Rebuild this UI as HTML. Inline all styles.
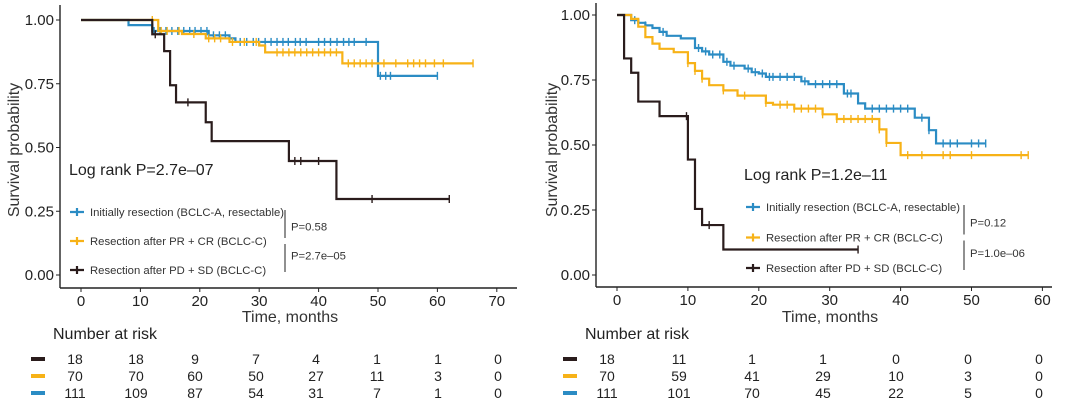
<!DOCTYPE html>
<html><head><meta charset="utf-8"><style>
body{margin:0;background:#fff;width:1080px;height:405px;overflow:hidden}
svg{font-family:"Liberation Sans",Arial,sans-serif}
</style></head><body>
<svg id="s" width="1080" height="405" xmlns="http://www.w3.org/2000/svg"></svg>
<script>
// Panel A data
const aBlueT=[0,8,12,21.5,25,26,50], aBlueS=[1,0.98,0.957,0.94,0.928,0.914,0.781], aBlueEnd=60;
const aBlueC=[12.3,13.3,14.3,15.3,16.3,17.3,18.3,19.2,20.2,21.2,22.3,23.3,24.3,26.8,27.9,29,29.9,31,32,33,34,34.9,36.1,36.9,37.9,40,41,42,43.1,44.2,45.1,46,48,50.4,51.3,52.1,60];
const aOrT=[0,13,17,21,25,30,31,44], aOrS=[1,0.957,0.945,0.928,0.914,0.9,0.873,0.83], aOrEnd=66;
const aOrC=[12,13.5,14.5,16.5,19,21.5,22.5,23.5,25.5,27.5,29.5,33,34,35,36,37,38,39,40,41,42,43,45,46,47,48,49,51,53,55,56,57,58,59.5,61,66];
const aBkT=[0,12,14,15,16,21,22,35,43], aBkS=[1,0.944,0.878,0.744,0.677,0.599,0.525,0.447,0.298], aBkEnd=62;
const aBkC=[12.5,18,36,37,40,49,62];
const aRiskBk=[18,18,9,7,4,1,1,0], aRiskOr=[70,70,60,50,27,11,3,0], aRiskBl=[111,109,87,54,31,7,1,0];
// Panel B data
const bBlueT=[0,2,3,4,5,6,7,9,11,12,13,15,16,18,19,20,21,26,27,32,34,35,42,44,45], bBlueS=[1,0.98,0.97,0.96,0.95,0.935,0.92,0.91,0.873,0.86,0.848,0.82,0.805,0.794,0.78,0.775,0.762,0.745,0.734,0.698,0.66,0.64,0.605,0.557,0.506], bBlueEnd=52;
const bBlueC=[2.5,4,6.5,11.5,12.5,13.5,14.5,15.5,16.5,18.5,19.5,20.5,21.5,22,23,24,25,26.5,28,29,30,31,32.5,33,36,37,38,39,40,41,43,44,46,47,48,50,51,52];
const bOrT=[0,2,3,4,5,6,8,10,11,12,13,15,17,21,22,25,29,31,37,38,40], bOrS=[1,0.985,0.955,0.915,0.89,0.87,0.857,0.815,0.785,0.755,0.73,0.71,0.69,0.662,0.655,0.64,0.618,0.6,0.56,0.508,0.461], bOrEnd=58;
const bOrC=[10,11,12,15,18,21,23,24,25,26,27,28,29,31,32,33,34,35,36,37,38,41,43,46,47,50,57,58];
const bBkT=[0,1,2,3,6,10,11,12,15], bBkS=[1,0.833,0.778,0.667,0.611,0.444,0.254,0.192,0.098], bBkEnd=34;
const bBkC=[9.8,13,34];
const bRiskBk=[18,11,1,1,0,0,0], bRiskOr=[70,59,41,29,10,3,0], bRiskBl=[111,101,70,45,22,5,0];
const yTicks=[0,0.25,0.5,0.75,1], yLabels=["0.00","0.25","0.50","0.75","1.00"];

const C={bl:"#2b8cc4",or:"#f7b217",bk:"#2a1c1c"};
const S=document.getElementById('s');const NS="http://www.w3.org/2000/svg";
function el(t,a,txt){const e=document.createElementNS(NS,t);for(const k in a)e.setAttribute(k,a[k]);if(txt!==undefined)e.textContent=txt;S.appendChild(e);return e;}
function surv(T,Sv,t){let s=1;for(let i=0;i<T.length;i++)if(T[i]<=t)s=Sv[i];return s;}

function panel(P){
 const X=v=>P.x0+v*P.kx, Y=v=>P.y0-v*P.ky;
 let e=el('line',{x1:P.ax,y1:P.top,x2:P.ax,y2:P.axY,stroke:'#222','stroke-width':1.4});
 
 e=el('line',{x1:P.ax,y1:P.axY,x2:P.right,y2:P.axY,stroke:'#222','stroke-width':1.4});
 
 yTicks.forEach((v,i)=>{
  el('line',{x1:P.ax-4,y1:Y(v),x2:P.ax,y2:Y(v),stroke:'#222'});
  e=el('text',{x:P.ax-6,y:Y(v)+5,'text-anchor':'end','font-size':15,fill:'#222'},yLabels[i]);
  
 });
 P.xt.forEach(v=>{
  el('line',{x1:X(v),y1:P.axY,x2:X(v),y2:P.axY+4,stroke:'#222'});
  e=el('text',{x:X(v),y:P.axY+18,'text-anchor':'middle','font-size':15,fill:'#222'},String(v));
  
 });
 e=el('text',{x:P.ylx,y:150,'text-anchor':'middle','font-size':16,fill:'#333',transform:`rotate(-90 ${P.ylx} 150)`},'Survival probability');
 
 e=el('text',{x:P.xlx,y:322,'text-anchor':'middle','font-size':16,fill:'#333'},'Time, months');
 
 P.series.forEach(sr=>{
  let d=`M${X(sr.T[0])},${Y(sr.S[0])}`;
  for(let i=1;i<sr.T.length;i++){d+=`H${X(sr.T[i])}V${Y(sr.S[i])}`;}
  d+=`H${X(sr.end)}`;
  e=el('path',{d,fill:'none',stroke:C[sr.c],'stroke-width':2.2});
  
  sr.cens.forEach(t=>{const yy=Y(surv(sr.T,sr.S,t));
   e=el('path',{d:`M${X(t)},${yy-4}V${yy+4}`,stroke:C[sr.c],'stroke-width':1.4});
   });
 });
 e=el('text',{x:P.lr[0],y:P.lr[1],'font-size':16,fill:'#222'},P.lrText);
 
 const labs=[["bl","Initially resection (BCLC-A, resectable)"],["or","Resection after PR + CR (BCLC-C)"],["bk","Resection after PD + SD (BCLC-C)"]];
 labs.forEach((l,i)=>{const yy=P.leg[1]+i*P.leg[2];
  e=el('path',{d:`M${P.leg[0]},${yy}h14M${P.leg[0]+7},${yy-4}v8`,stroke:C[l[0]],'stroke-width':2.2});
  
  e=el('text',{x:P.leg[0]+20,y:yy+4,'font-size':11.3,fill:'#333'},l[1]);
  });
 const bx=P.br,y1=P.leg[1],g=P.leg[2];
 el('line',{x1:bx,y1:y1-2,x2:bx,y2:y1+g-3,stroke:'#555','stroke-width':1.3});
 el('line',{x1:bx,y1:y1+g+3,x2:bx,y2:y1+2*g+2,stroke:'#555','stroke-width':1.3});
 e=el('text',{x:bx+6,y:y1+g/2+4,'font-size':11.3,fill:'#333'},P.p1);
 
 e=el('text',{x:bx+6,y:y1+1.5*g+4,'font-size':11.3,fill:'#333'},P.p2);
 
 e=el('text',{x:P.nr,y:339,'font-size':16,fill:'#222'},'Number at risk');
 
 [[P.rk[0],'bk'],[P.rk[1],'or'],[P.rk[2],'bl']].forEach((r,i)=>{const yy=359+i*17;
  e=el('rect',{x:P.sw,y:yy-2,width:14,height:4,fill:C[r[1]]});
  
  r[0].forEach((v,j)=>{e=el('text',{x:P.rc[j],y:yy+5,'text-anchor':'middle','font-size':14,fill:'#222'},String(v));
   });
 });
}
panel({x0:81,kx:5.94,y0:275,ky:255,ax:60,top:5,axY:288,right:517,xt:[0,10,20,30,40,50,60,70],ylx:19,xlx:290,
 series:[{n:'bclc-a',c:'bl',T:aBlueT,S:aBlueS,end:aBlueEnd,cens:aBlueC},{n:'pr-cr',c:'or',T:aOrT,S:aOrS,end:aOrEnd,cens:aOrC},{n:'pd-sd',c:'bk',T:aBkT,S:aBkS,end:aBkEnd,cens:aBkC}],
 lr:[69,175],lrText:'Log rank P=2.7e\u201307',leg:[70,212,29],br:285,p1:'P=0.58',p2:'P=2.7e\u201305',
 nr:53,sw:31,rk:[aRiskBk,aRiskOr,aRiskBl],rc:[75,136,195,256,316,377,438,498]});
panel({x0:617,kx:7.09,y0:275,ky:260,ax:596,top:3,axY:287,right:1052,xt:[0,10,20,30,40,50,60],ylx:557,xlx:830,
 series:[{n:'bclc-a',c:'bl',T:bBlueT,S:bBlueS,end:bBlueEnd,cens:bBlueC},{n:'pr-cr',c:'or',T:bOrT,S:bOrS,end:bOrEnd,cens:bOrC},{n:'pd-sd',c:'bk',T:bBkT,S:bBkS,end:bBkEnd,cens:bBkC}],
 lr:[744,180],lrText:'Log rank P=1.2e\u201311',leg:[746,207,30.5],br:964,p1:'P=0.12',p2:'P=1.0e\u201306',
 nr:585,sw:563,rk:[bRiskBk,bRiskOr,bRiskBl],rc:[607,679,752,823,896,968,1039]});
</script>
</body></html>
